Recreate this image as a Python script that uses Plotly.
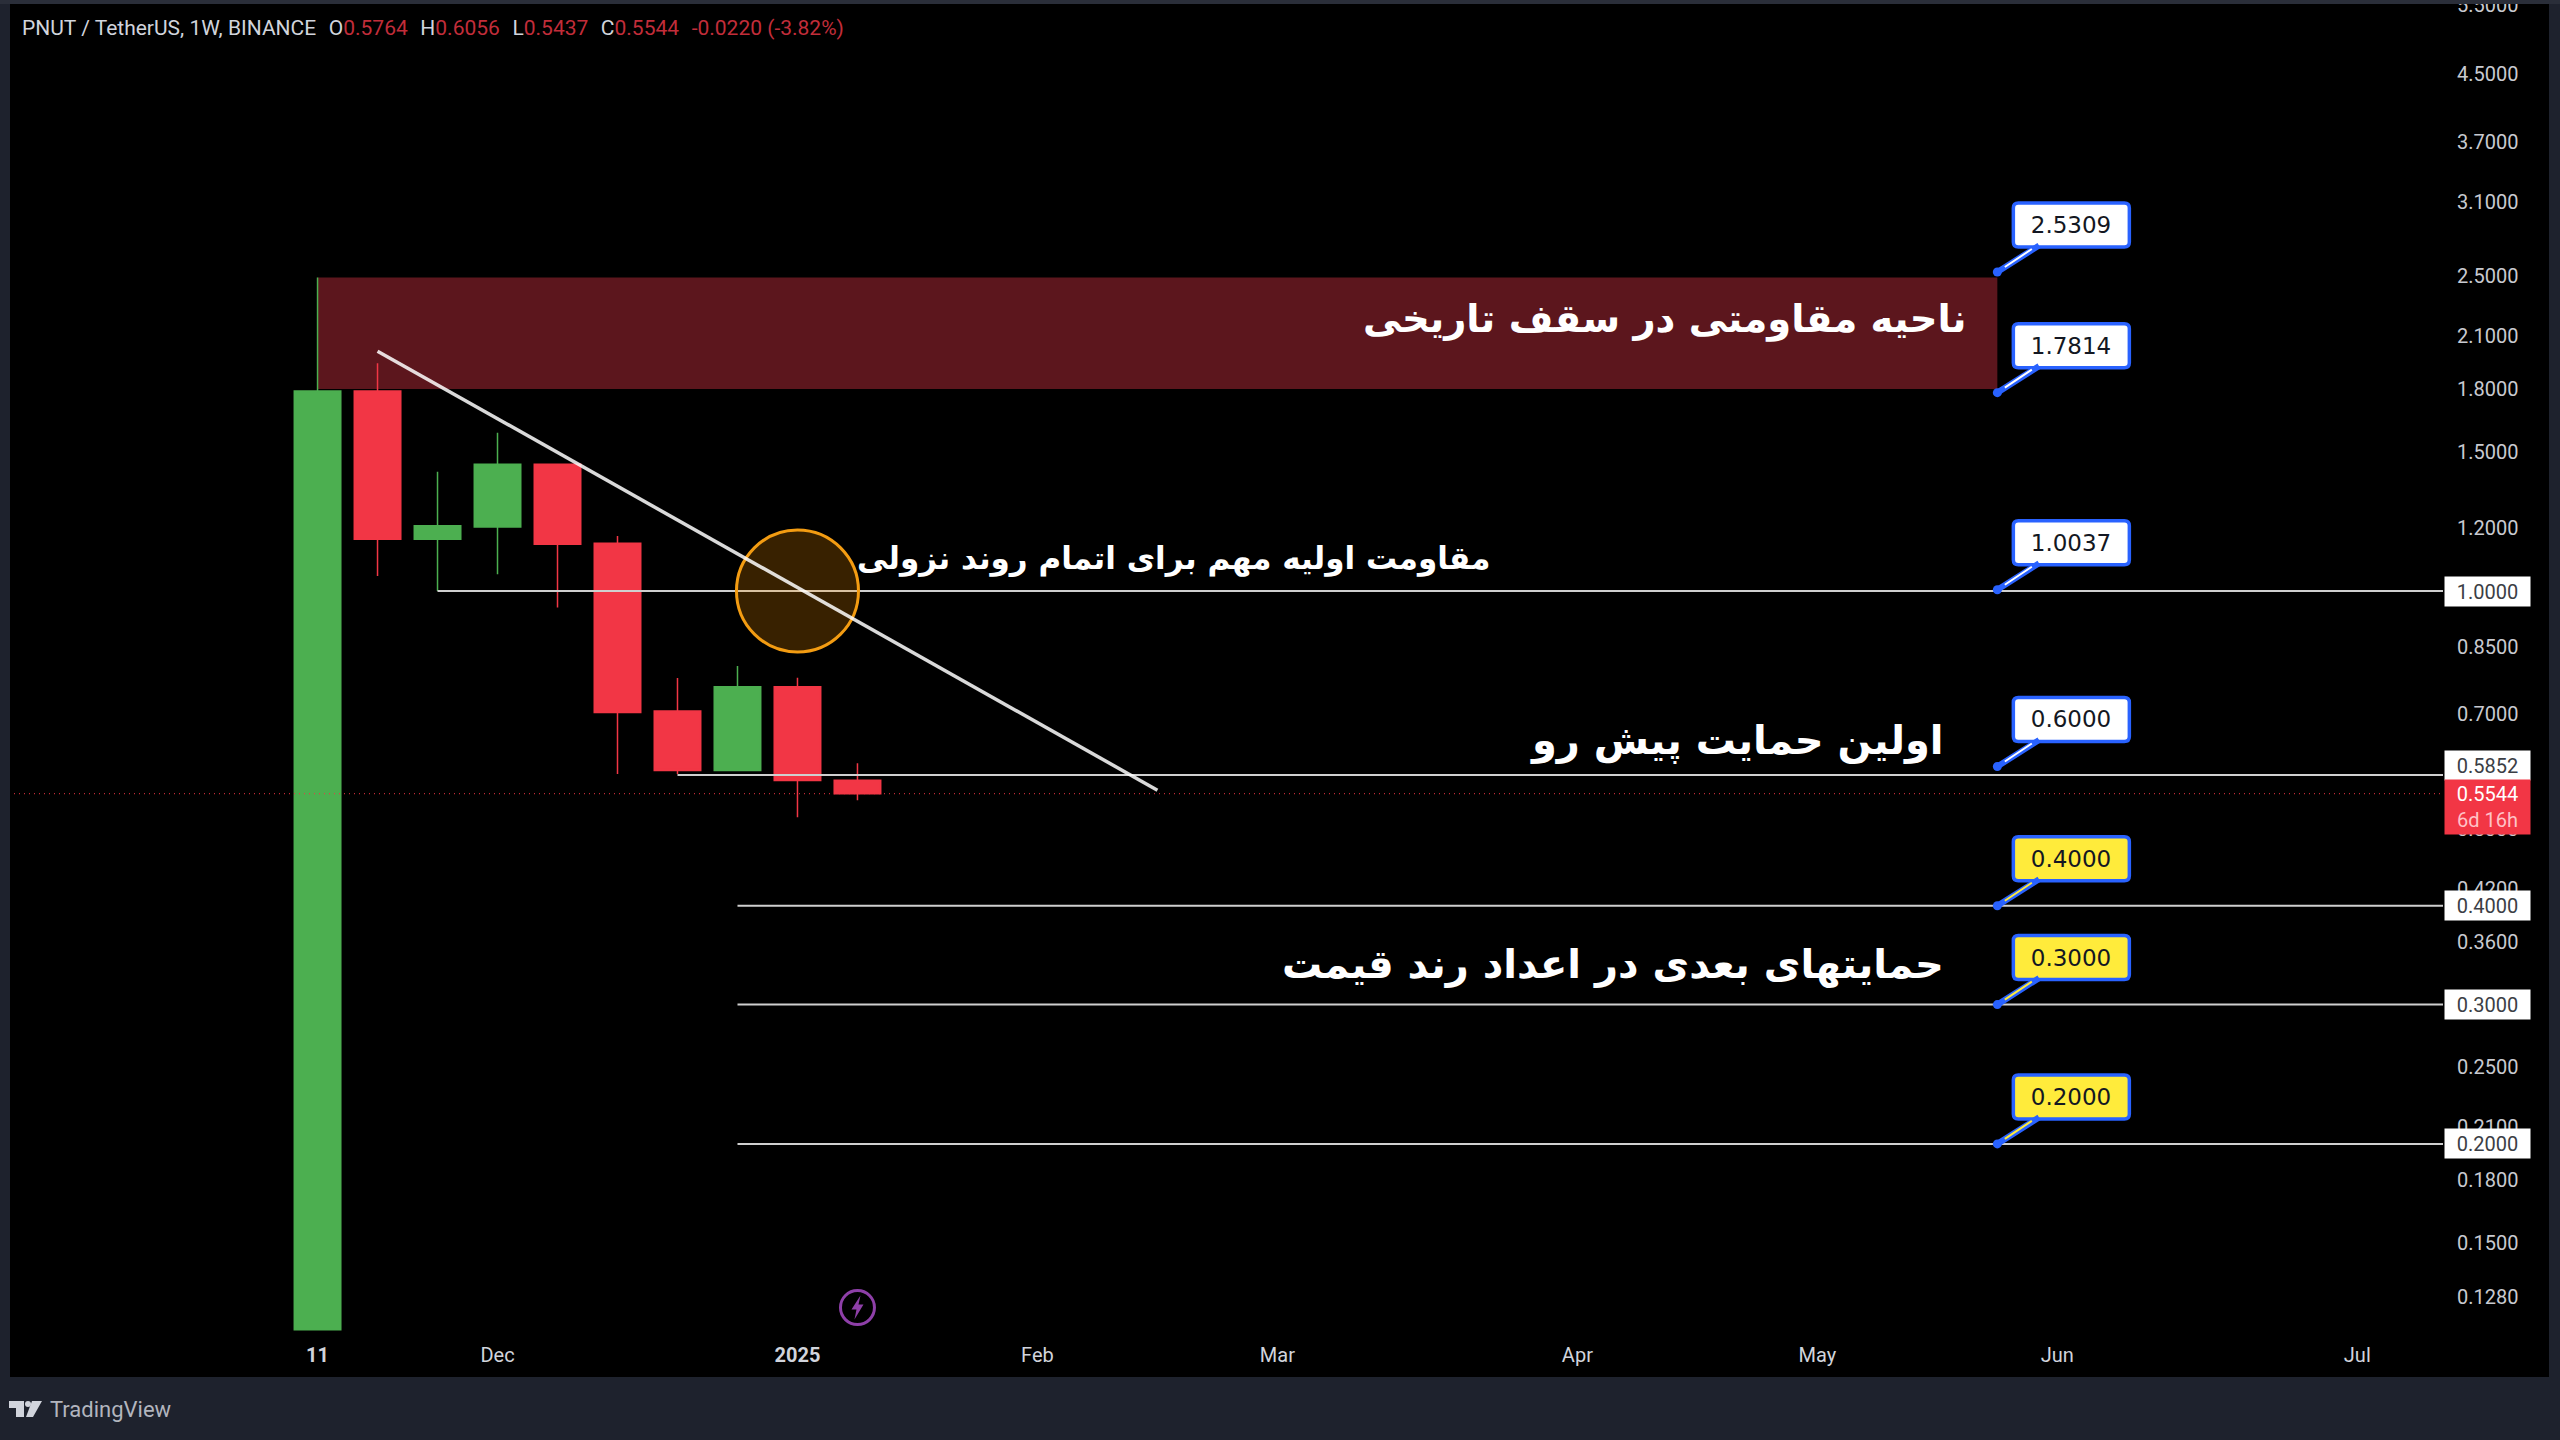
import math

import plotly.graph_objects as go

# weekly candles
dates = ['2024-11-11', '2024-11-18', '2024-11-25', '2024-12-02', '2024-12-09',
         '2024-12-16', '2024-12-23', '2024-12-30', '2025-01-06', '2025-01-13']
opens = [0.1164, 1.79, 1.163, 1.205, 1.446, 1.149, 0.705, 0.593, 0.757, 0.5764]
highs = [2.49, 1.94, 1.415, 1.585, 1.446, 1.174, 0.776, 0.804, 0.777, 0.6056]
lows = [0.1164, 1.045, 1.0, 1.05, 0.953, 0.587, 0.587, 0.593, 0.5176, 0.5437]
closes = [1.79, 1.163, 1.209, 1.446, 1.146, 0.702, 0.593, 0.757, 0.576, 0.5544]

# drawings on the chart
zone_dates = ['2024-11-11', '2025-05-26']
zone_prices = [1.80, 2.49]
trend_dates = ['2024-11-18', '2025-02-17']
trend_prices = [2.01, 0.56]
level_prices = [1.0, 0.5852, 0.4, 0.3, 0.2]
level_starts = ['2024-11-25', '2024-12-23', '2024-12-30', '2024-12-30', '2024-12-30']
level_tags = ['1.0000', '0.5852', '0.4000', '0.3000', '0.2000']
last_price = 0.5544
circle_date = '2025-01-06'
circle_price = 1.0
event_date = '2025-01-13'
event_price = 0.1242

# callouts
callout_date = '2025-05-26'
callout_prices = [2.5309, 1.7814, 1.0037, 0.6000, 0.4000, 0.3000, 0.2000]
callout_fills = ['#ffffff', '#ffffff', '#ffffff', '#ffffff', '#ffeb3b', '#ffeb3b', '#ffeb3b']

# persian labels
note_texts = ['ناحیه مقاومتی در سقف تاریخی', 'مقاومت اولیه مهم برای اتمام روند نزولی',
              'اولین حمایت پیش رو', 'حمایتهای بعدی در اعداد رند قیمت']
note_dates = ['2025-05-22 14:00', '2025-03-28', '2025-05-20', '2025-05-20']
note_prices = [2.21, 1.10, 0.648, 0.337]
note_sizes = [38.5, 31, 40, 40]

# axes
price_ticks = [5.5, 4.5, 3.7, 3.1, 2.5, 2.1, 1.8, 1.5, 1.2, 1.0, 0.85, 0.7, 0.5, 0.42, 0.36,
               0.3, 0.25, 0.21, 0.18, 0.15, 0.128]
time_ticks = ['2024-11-11', '2024-12-02', '2025-01-06', '2025-02-03', '2025-03-03',
              '2025-04-07', '2025-05-05', '2025-06-02', '2025-07-07']
time_labels = ['<b>11</b>', 'Dec', '<b>2025</b>', 'Feb', 'Mar', 'Apr', 'May', 'Jun', 'Jul']
axis_start = '2024-10-06'
axis_end = '2025-07-17'

GREEN = '#4caf50'
RED = '#f23645'
BLUE = '#2962ff'
FRAME = '#1e222d'
LEVEL = '#cfcfcf'

# plot area in page pixels
LEFT, RIGHT, TOP, BOTTOM = 9, 2443, 4, 1340


def px_x(p):
    return (p - LEFT) / (RIGHT - LEFT)


def px_y(p):
    return (BOTTOM - p) / (BOTTOM - TOP)


fig = go.Figure()

# horizontal levels stay behind the candles
for price, start in zip(level_prices, level_starts):
    fig.add_trace(go.Scatter(x=[start, axis_end], y=[price, price], mode='lines',
                             line={'color': LEVEL, 'width': 2}, hoverinfo='skip'))

fig.add_trace(go.Candlestick(x=dates, open=opens, high=highs, low=lows, close=closes,
                             increasing={'line': {'color': GREEN, 'width': 1.5}, 'fillcolor': GREEN},
                             decreasing={'line': {'color': RED, 'width': 1.5}, 'fillcolor': RED}))

fig.add_trace(go.Scatter(x=[axis_start, axis_end], y=[last_price, last_price], mode='lines',
                         line={'color': RED, 'width': 1.2, 'dash': '1px 4px'}, opacity=0.8, hoverinfo='skip'))
fig.add_trace(go.Scatter(x=[circle_date], y=[circle_price], mode='markers', hoverinfo='skip',
                         marker={'size': 122, 'color': 'rgba(255,152,0,0.22)',
                                 'line': {'color': '#f39c12', 'width': 3}}))
fig.add_trace(go.Scatter(x=trend_dates, y=trend_prices, mode='lines', hoverinfo='skip',
                         line={'color': 'rgba(255,255,255,0.85)', 'width': 3.5}))
fig.add_trace(go.Scatter(x=[callout_date] * len(callout_prices), y=callout_prices, mode='markers',
                         hoverinfo='skip', marker={'size': 9, 'color': BLUE}))
fig.add_trace(go.Scatter(x=[event_date], y=[event_price], mode='markers', hoverinfo='skip',
                         marker={'size': 34, 'color': 'rgba(0,0,0,0)', 'line': {'color': '#8e3fa8', 'width': 3}}))

shapes = [
    # resistance zone
    dict(type='rect', xref='x', yref='y', x0=zone_dates[0], x1=zone_dates[1], y0=zone_prices[0], y1=zone_prices[1],
         fillcolor='#5c161d', line={'width': 0}, layer='below'),
    # window frame
    dict(type='rect', xref='paper', yref='paper', x0=px_x(0), x1=px_x(2560), y0=px_y(1377), y1=px_y(1440),
         fillcolor=FRAME, line={'width': 0}, layer='above'),
    dict(type='rect', xref='paper', yref='paper', x0=px_x(0), x1=px_x(10), y0=px_y(0), y1=px_y(1440),
         fillcolor=FRAME, line={'width': 0}, layer='above'),
    dict(type='rect', xref='paper', yref='paper', x0=px_x(2549), x1=px_x(2560), y0=px_y(0), y1=px_y(1440),
         fillcolor=FRAME, line={'width': 0}, layer='above'),
    dict(type='rect', xref='paper', yref='paper', x0=px_x(0), x1=px_x(2560), y0=px_y(0), y1=px_y(4),
         fillcolor='#2a2e39', line={'width': 0}, layer='above'),
    # lightning bolt of the event mark
    dict(type='path', xref='x', yref='y', xsizemode='pixel', ysizemode='pixel', xanchor=event_date, yanchor=event_price,
         path='M 3 12 L -6 -2 L -1 -2 L -3 -12 L 6 3 L 1 3 Z', fillcolor='#8e3fa8', line={'width': 0}),
    # tradingview logo
    dict(type='path', xref='paper', yref='paper',
         path='M %f %f L %f %f L %f %f L %f %f L %f %f L %f %f Z' % (
             px_x(9), px_y(1401), px_x(24), px_y(1401), px_x(24), px_y(1417),
             px_x(16), px_y(1417), px_x(16), px_y(1408), px_x(9), px_y(1408)),
         fillcolor='#d1d4dc', line={'width': 0}, layer='above'),
    dict(type='path', xref='paper', yref='paper',
         path='M %f %f L %f %f L %f %f L %f %f Z' % (
             px_x(32), px_y(1401), px_x(42), px_y(1401), px_x(33), px_y(1417), px_x(26), px_y(1417)),
         fillcolor='#d1d4dc', line={'width': 0}, layer='above'),
    dict(type='circle', xref='paper', yref='paper', x0=px_x(25), x1=px_x(31), y0=px_y(1401), y1=px_y(1407),
         fillcolor='#d1d4dc', line={'width': 0}, layer='above'),
]

# rounded callout box, offsets from the anchor point in pixels (y goes up)
BOX_PATH = ('M 21 25 L 127 25 Q 132 25 132 30 L 132 64 Q 132 69 127 69 L 21 69 Q 16 69 16 64 L 16 30 Q 16 25 21 25 Z')
for price, fill in zip(callout_prices, callout_fills):
    shapes.append(dict(type='path', xref='x', yref='y', xsizemode='pixel', ysizemode='pixel', xanchor=callout_date,
                       yanchor=price, path=BOX_PATH, fillcolor=fill, line={'color': BLUE, 'width': 3.5}, layer='above'))

annotations = []

# callout boxes with their tails
for price, fill in zip(callout_prices, callout_fills):
    annotations.append(dict(x=callout_date, y=math.log10(price), xref='x', yref='y', ax=74, ay=-47,
                            axref='pixel', ayref='pixel', text=f'{price:.4f}', showarrow=True, arrowhead=0,
                            arrowwidth=6, arrowcolor=BLUE, borderpad=1, width=110, height=38,
                            font={'family': 'DejaVu Sans', 'size': 23, 'color': '#131722'}))
    annotations.append(dict(x=callout_date, y=math.log10(price), xref='x', yref='y', ax=36, ay=-24,
                            axref='pixel', ayref='pixel', text=' ', showarrow=True, arrowhead=0,
                            arrowwidth=2, arrowcolor=fill, standoff=9, font={'size': 1}))

# price tags on the axis
for price, label in zip(level_prices, level_tags):
    shift = 10 if label == '0.5852' else 0
    annotations.append(dict(x=1, y=math.log10(price), xref='paper', yref='y', xanchor='left', xshift=1, yshift=shift,
                            text=label, showarrow=False, bgcolor='#ffffff', width=85, height=29, borderpad=0,
                            font={'family': 'Roboto', 'size': 20, 'color': '#3b3e45'}))
annotations.append(dict(x=1, y=math.log10(last_price), xref='paper', yref='y', xanchor='left', yanchor='top',
                        xshift=1, yshift=15, showarrow=False, bgcolor=RED, width=85, height=54, borderpad=0,
                        text="0.5544<br><span style='color:#ffc2c7'>6d 16h</span>",
                        font={'family': 'Roboto', 'size': 20, 'color': '#ffffff'}))

# persian notes
for text, date, price, size in zip(note_texts, note_dates, note_prices, note_sizes):
    annotations.append(dict(x=date, y=math.log10(price), xref='x', yref='y', xanchor='right', text='<b>' + text + '</b>',
                            showarrow=False, font={'family': 'DejaVu Sans', 'size': size, 'color': '#ffffff'}))

# header line
val = "<span style='color:#c22d3a'>%s</span>"
gap = '\u00a0\u00a0\u200a'
header = ('PNUT / TetherUS, 1W, BINANCE' + gap + 'O' + val % f'{opens[-1]:.4f}' + gap + 'H' + val % f'{highs[-1]:.4f}'
          + gap + 'L' + val % f'{lows[-1]:.4f}' + gap + 'C' + val % f'{closes[-1]:.4f}'
          + gap + val % '-0.0220 (-3.82%)')
annotations.append(dict(x=px_x(20), y=px_y(28), xref='paper', yref='paper', xanchor='left', yanchor='middle',
                        text=header, showarrow=False, font={'family': 'Roboto', 'size': 21, 'color': '#d1d4dc'}))
annotations.append(dict(x=px_x(48), y=px_y(1410), xref='paper', yref='paper', xanchor='left', yanchor='middle',
                        text='TradingView', showarrow=False, font={'family': 'Roboto', 'size': 22, 'color': '#b2b5be'}))

fig.update_layout(width=2560, height=1440, showlegend=False, paper_bgcolor='#000000', plot_bgcolor='#000000',
                  margin={'l': LEFT, 'r': 2560 - RIGHT, 't': TOP, 'b': 1440 - BOTTOM, 'pad': 0, 'autoexpand': False},
                  boxgap=0.225, boxgroupgap=0, shapes=shapes, annotations=annotations,
                  xaxis={'type': 'date', 'range': [axis_start, axis_end], 'rangeslider': {'visible': False},
                         'tickvals': time_ticks, 'ticktext': time_labels, 'showgrid': False, 'zeroline': False,
                         'ticks': '', 'ticklabelstandoff': 1, 'tickangle': 0,
                         'tickfont': {'family': 'Roboto', 'size': 20, 'color': '#d1d4dc'}},
                  yaxis={'type': 'log', 'side': 'right', 'range': [-0.9469, 0.7421], 'tickvals': price_ticks,
                         'ticktext': [f'{t:.4f}' for t in price_ticks], 'showgrid': False, 'zeroline': False,
                         'ticks': '', 'ticklabelstandoff': 13, 'ticklabeloverflow': 'allow',
                         'tickfont': {'family': 'Roboto', 'size': 20, 'color': '#c8cad0'}})

fig.write_html("out.html", config={'displayModeBar': False},
               post_script="document.body.style.margin='0';document.body.style.overflow='hidden';")
